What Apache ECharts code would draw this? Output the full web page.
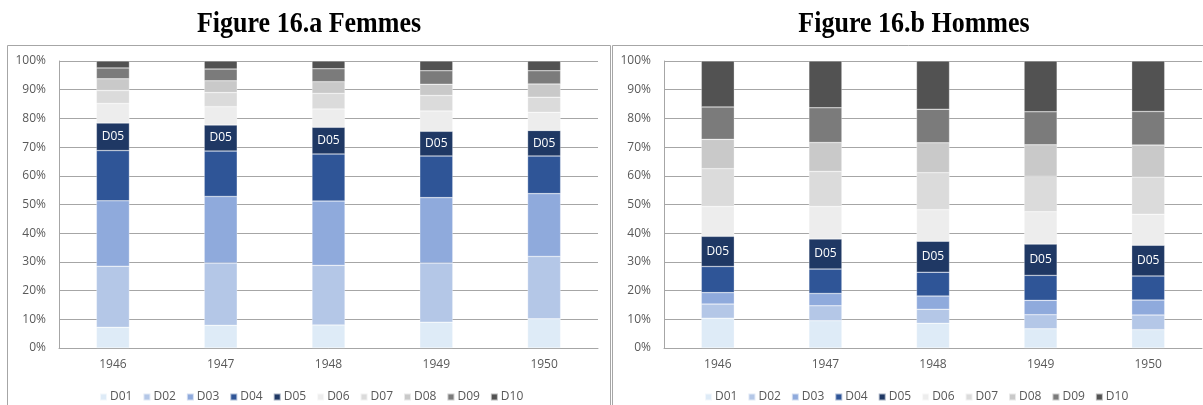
<!DOCTYPE html>
<html>
<head>
<meta charset="utf-8">
<script src="https://cdn.jsdelivr.net/npm/echarts@6/dist/echarts.min.js"></script>
<style>
  html, body { margin: 0; padding: 0; background: #fff; }
  #chart { width: 1203px; height: 405px; }
</style>
</head>
<body>
<div id="chart"></div>
<script>
// Years on the category axis
const years = ['1946', '1947', '1948', '1949', '1950'];
// Deciles, bottom to top of each stacked bar
const deciles = ['D01', 'D02', 'D03', 'D04', 'D05', 'D06', 'D07', 'D08', 'D09', 'D10'];
const decileColors = ['#DEEBF7', '#B4C7E7', '#8FAADC', '#2F5597', '#1F3864',
                      '#EDEDED', '#DBDBDB', '#C9C9C9', '#7B7B7B', '#525252'];
// Y-axis tick labels (percent)
const yTicks = [0, 10, 20, 30, 40, 50, 60, 70, 80, 90, 100];
// Panel titles
const panelTitles = ['Figure 16.a Femmes', 'Figure 16.b Hommes'];

// Share (%) of each decile per year — women
const femmesD01 = [7.2, 7.9, 8.0, 9.0, 10.2];
const femmesD02 = [21.3, 21.7, 20.8, 20.6, 21.7];
const femmesD03 = [22.8, 23.2, 22.4, 22.8, 21.9];
const femmesD04 = [17.5, 15.8, 16.4, 14.5, 13.1];
const femmesD05 = [9.6, 9.1, 9.3, 8.6, 8.9];
const femmesD06 = [6.8, 6.4, 6.4, 7.1, 6.3];
const femmesD07 = [4.5, 4.9, 5.4, 5.4, 5.3];
const femmesD08 = [4.1, 4.1, 4.1, 3.9, 4.6];
const femmesD09 = [3.8, 4.1, 4.5, 4.7, 4.6];
const femmesD10 = [2.4, 2.8, 2.7, 3.4, 3.4];

// Share (%) of each decile per year — men
const hommesD01 = [10.4, 9.5, 8.6, 6.7, 6.4];
const hommesD02 = [4.9, 5.2, 4.9, 4.9, 5.1];
const hommesD03 = [4.0, 4.3, 4.6, 5.0, 5.2];
const hommesD04 = [9.1, 8.5, 8.3, 8.7, 8.4];
const hommesD05 = [10.5, 10.5, 10.8, 10.9, 10.7];
const hommesD06 = [10.4, 11.3, 11.0, 11.3, 10.8];
const hommesD07 = [13.2, 12.2, 12.9, 12.3, 13.0];
const hommesD08 = [10.2, 10.1, 10.4, 11.0, 11.1];
const hommesD09 = [11.3, 12.1, 11.7, 11.5, 11.7];
const hommesD10 = [16.0, 16.3, 16.8, 17.7, 17.6];

const femmes = [femmesD01, femmesD02, femmesD03, femmesD04, femmesD05,
                femmesD06, femmesD07, femmesD08, femmesD09, femmesD10];
const hommes = [hommesD01, hommesD02, hommesD03, hommesD04, hommesD05,
                hommesD06, hommesD07, hommesD08, hommesD09, hommesD10];

const FONT = '"Open Sans", "Liberation Sans", sans-serif';
const SERIF = '"Liberation Serif", "Times New Roman", serif';
const GRID_LINE = '#A6A6A6';
const TEXT = '#595959';

function makeSeries(values, idx) {
  return deciles.map((name, i) => ({
    name: name,
    type: 'bar',
    stack: 'panel' + idx,
    xAxisIndex: idx,
    yAxisIndex: idx,
    barWidth: 33,
    data: values[i],
    itemStyle: { color: decileColors[i], borderColor: 'rgba(255,255,255,0.6)', borderWidth: 0.5 },
    label: {
      show: name === 'D05',
      position: 'inside',
      formatter: '{a}',
      color: '#FFFFFF',
      fontFamily: FONT,
      fontSize: 12
    },
    emphasis: { disabled: true },
    animation: false
  }));
}

function xAxis(idx) {
  return {
    type: 'category',
    gridIndex: idx,
    data: years,
    axisLine: { show: true, lineStyle: { color: GRID_LINE, width: 1 } },
    axisTick: { show: false },
    axisLabel: { color: TEXT, fontFamily: FONT, fontSize: 12, margin: 11 }
  };
}

function yAxis(idx) {
  return {
    type: 'value',
    gridIndex: idx,
    min: yTicks[0],
    max: yTicks[yTicks.length - 1],
    interval: yTicks[1] - yTicks[0],
    axisLine: { show: true, lineStyle: { color: GRID_LINE, width: 1 } },
    axisTick: { show: false },
    splitLine: { show: true, lineStyle: { color: GRID_LINE, width: 1 } },
    axisLabel: { color: TEXT, fontFamily: FONT, fontSize: 12, margin: 13, formatter: '{value}%' }
  };
}

function legend(startX) {
  return {
    data: deciles,
    left: startX,
    top: 386,
    itemWidth: 7,
    itemHeight: 7,
    itemGap: 10,
    icon: 'rect',
    selectedMode: false,
    textStyle: { color: TEXT, fontFamily: FONT, fontSize: 12, padding: [0, 0, 0, -2] }
  };
}

function titleText(text, cx) {
  return {
    type: 'text',
    x: cx,
    y: 39,
    scaleY: 1.15,
    style: {
      text: text,
      fill: '#000000',
      font: 'bold 26px ' + SERIF,
      textAlign: 'center',
      textVerticalAlign: 'bottom'
    }
  };
}

const chart = echarts.init(document.getElementById('chart'), null, { renderer: 'canvas' });
chart.setOption({
  backgroundColor: '#FFFFFF',
  animation: false,
  graphic: [
    titleText(panelTitles[0], 309),
    titleText(panelTitles[1], 914),
    { type: 'rect', shape: { x: 7.5, y: 45.5, width: 603, height: 370 }, style: { fill: 'none', stroke: '#A6A6A6', lineWidth: 1 }, z: -1 },
    { type: 'rect', shape: { x: 612.5, y: 45.5, width: 600, height: 370 }, style: { fill: 'none', stroke: '#A6A6A6', lineWidth: 1 }, z: -1 }
  ],
  grid: [
    { left: 59, right: 605, top: 61, bottom: 57 },
    { left: 664, right: 1, top: 61, bottom: 57 }
  ],
  legend: [legend(94), legend(699)],
  xAxis: [xAxis(0), xAxis(1)],
  yAxis: [yAxis(0), yAxis(1)],
  series: [...makeSeries(femmes, 0), ...makeSeries(hommes, 1)]
});
</script>
</body>
</html>
